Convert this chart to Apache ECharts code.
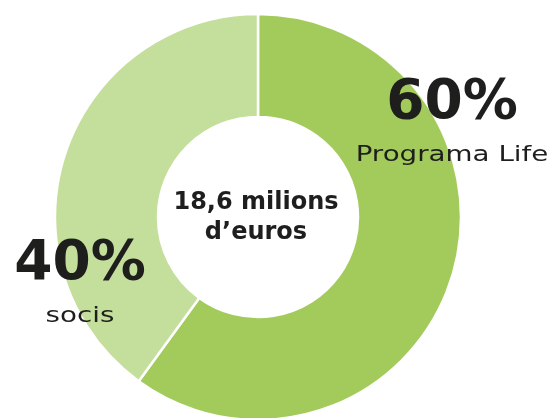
<!DOCTYPE html>
<html><head><meta charset="utf-8">
<script src="https://cdn.jsdelivr.net/npm/echarts@6/dist/echarts.min.js"></script>
<style>html,body{margin:0;padding:0;background:#fff}#c{width:554px;height:418px}</style>
</head><body><div id="c"></div>
<script>
const categories = ['Programa Life', 'socis'];
const values = [60, 40];
const centerLines = ['18,6 milions', 'd’euros'];

const colors = ['#a3cb5c', '#c4de9b'];
const labelPos = [[452, 104], [80, 265]];
const chart = echarts.init(document.getElementById('c'));
const labelGraphics = [];
categories.forEach((n, i) => {
  labelGraphics.push({
    type: 'text', x: labelPos[i][0], y: labelPos[i][1], z: 100,
    style: { text: values[i] + '%', textAlign: 'center', textVerticalAlign: 'middle',
      font: 'bold 55px "DejaVu Sans"', fill: '#1e1e1c' }
  });
  labelGraphics.push({
    type: 'text', x: labelPos[i][0], y: labelPos[i][1] + 51, z: 100, scaleX: 1.26,
    style: { text: n, textAlign: 'center', textVerticalAlign: 'middle',
      font: '22px "DejaVu Sans"', fill: '#1e1e1c' }
  });
});
chart.setOption({
  animation: false,
  graphic: [{
    type: 'text', x: 256, y: 218, z: 100,
    style: {
      text: centerLines.join('\n'), textAlign: 'center', textVerticalAlign: 'middle',
      font: 'bold 24px "DejaVu Sans"', fill: '#1e1e1c', lineHeight: 30
    }
  }].concat(labelGraphics),
  series: [{
    type: 'pie',
    z: 1,
    center: [258, 217],
    radius: [100, 203],
    startAngle: 90,
    clockwise: true,
    silent: true,
    itemStyle: { borderColor: '#fff', borderWidth: 2.5 },
    data: categories.map((n, i) => ({ name: n, value: values[i], itemStyle: { color: colors[i] } })),
    labelLine: { show: false },
    label: { show: false }
  }]
});
</script></body></html>
